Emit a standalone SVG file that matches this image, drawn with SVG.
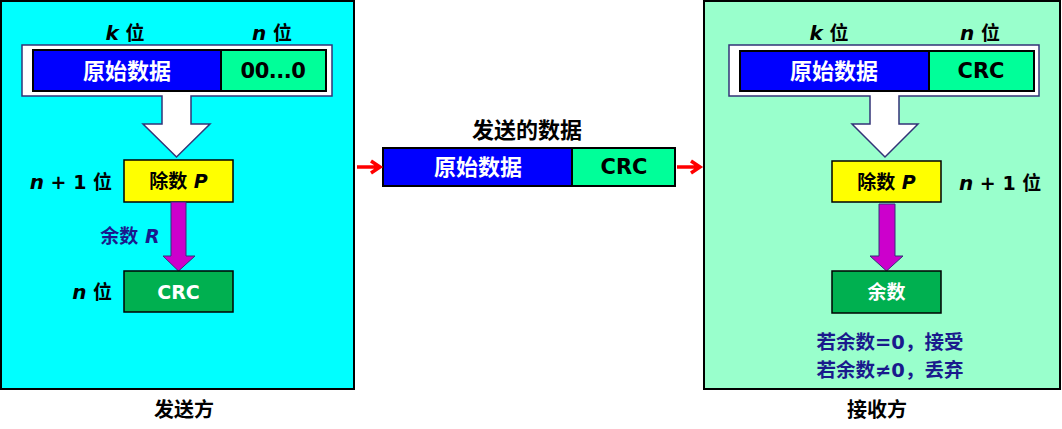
<svg xmlns="http://www.w3.org/2000/svg" width="1062" height="429" viewBox="0 0 1062 429">
<style>
text{font-family:"DejaVu Sans","Noto Sans CJK SC",sans-serif;font-weight:bold;text-anchor:middle;dominant-baseline:central}
.lbl{font-size:19px;fill:#000}
.big{font-size:21px}
.cn{font-size:22px}
.w{fill:#fff}
.k{fill:#000}
.nv{fill:#1a1a8c}
.bar{stroke:#000;stroke-width:2}
.box{stroke:#000;stroke-width:1.5}
.outline{fill:#fff;stroke:#333377;stroke-width:1.5}
.parr{fill:#CC00CC;stroke:#333377;stroke-width:1}
.red{stroke:#FF0000;stroke-width:3.5;fill:none;stroke-linejoin:miter}
</style>

<g id="sender">
<rect x="1" y="1" width="353" height="388" fill="#00FFFF" stroke="#000" stroke-width="2"/>
<path class="outline" d="M22,45 H332 V96 H191 V124 H210 L176.5,157 L143,124 H162 V96 H22 Z"/>
<rect class="bar" x="33" y="50" width="188" height="41" fill="#0000FF"/>
<rect class="bar" x="221" y="50" width="105" height="41" fill="#00FF99"/>
<text class="cn w" x="127" y="71">原始数据</text>
<text class="big k" x="273" y="71" letter-spacing="-0.5">00...0</text>
<text class="lbl" x="125" y="33"><tspan font-style="italic" font-size="20">k</tspan> 位</text>
<text class="lbl" x="272" y="33"><tspan font-style="italic" font-size="20">n</tspan> 位</text>
<rect class="box" x="124" y="160" width="109" height="42" fill="#FFFF00"/>
<text class="lbl" x="178.5" y="181">除数 <tspan font-style="italic">P</tspan></text>
<text class="lbl" x="112" y="182" style="text-anchor:end"><tspan font-style="italic" font-size="20">n</tspan> + 1 位</text>
<path class="parr" d="M171,202 H186 V256 H195 L178.5,271 L163,256 H171 Z"/>
<text class="lbl nv" x="130" y="236"><tspan>余数 </tspan><tspan font-style="italic">R</tspan></text>
<rect class="box" x="124" y="271" width="109" height="41" fill="#00B050"/>
<text class="lbl w" x="178.5" y="292">CRC</text>
<text class="lbl" x="112" y="292" style="text-anchor:end"><tspan font-style="italic" font-size="20">n</tspan> 位</text>
<text class="lbl" x="184" y="410" style="font-size:20px">发送方</text>
</g>

<g id="sent-data">
<text class="cn k" x="527" y="130">发送的数据</text>
<rect class="bar" x="383" y="148" width="189" height="38" fill="#0000FF"/>
<rect class="bar" x="572" y="148" width="103" height="38" fill="#00FF99"/>
<text class="cn w" x="478" y="167">原始数据</text>
<text class="big k" x="624" y="167">CRC</text>
</g>

<g id="receiver">
<rect x="704" y="1" width="356" height="388" fill="#99FFCC" stroke="#000" stroke-width="2"/>
<path class="outline" d="M729,45 H1039 V96 H899 V124 H918 L885,157 L852,124 H870 V96 H729 Z"/>
<rect class="bar" x="740" y="51" width="189" height="40" fill="#0000FF"/>
<rect class="bar" x="929" y="51" width="105" height="40" fill="#00FF99"/>
<text class="cn w" x="834" y="71">原始数据</text>
<text class="big k" x="981" y="71">CRC</text>
<text class="lbl" x="829" y="33"><tspan font-style="italic" font-size="20">k</tspan> 位</text>
<text class="lbl" x="980" y="33"><tspan font-style="italic" font-size="20">n</tspan> 位</text>
<rect class="box" x="832" y="161" width="109" height="41" fill="#FFFF00"/>
<text class="lbl" x="886.5" y="182">除数 <tspan font-style="italic">P</tspan></text>
<text class="lbl" x="959" y="183" style="text-anchor:start"><tspan font-style="italic" font-size="20">n</tspan> + 1 位</text>
<path class="parr" d="M879,204 H895 V256 H903 L886.5,271 L870,256 H879 Z"/>
<rect class="box" x="832" y="271" width="109" height="42" fill="#00B050"/>
<text class="lbl w" x="886.5" y="292">余数</text>
<text class="lbl nv" x="890" y="342" style="font-size:19.5px">若余数=0，接受</text>
<text class="lbl nv" x="890" y="370" style="font-size:19.5px">若余数≠0，丢弃</text>
<text class="lbl" x="877" y="410" style="font-size:20px">接收方</text>
</g>

<g id="connectors">
<path class="red" d="M357,167 H380 M371,161 L380,167 L371,173"/>
<path class="red" d="M677,167 H700 M691,161 L700,167 L691,173"/>
</g>
</svg>
